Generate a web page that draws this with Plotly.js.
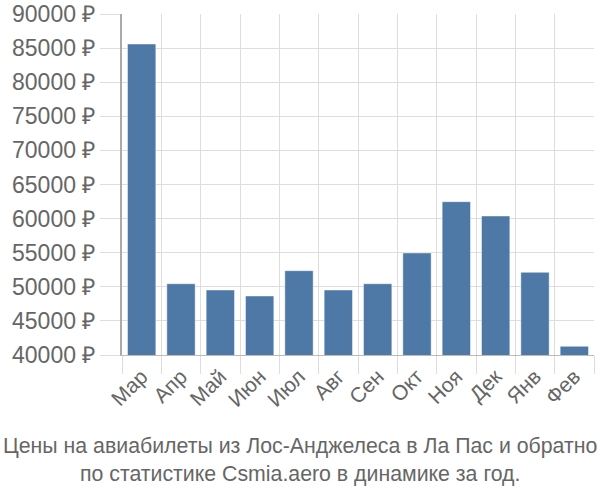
<!DOCTYPE html>
<html><head><meta charset="utf-8">
<script src="https://cdn.plot.ly/plotly-3.0.1.min.js"></script>
<style>html,body{margin:0;padding:0;background:#fff}#c{width:600px;height:500px}</style>
</head><body><div id="c"></div>
<script>
const months = ["Мар","Апр","Май","Июн","Июл","Авг","Сен","Окт","Ноя","Дек","Янв","Фев"];
const prices = [85600,50450,49530,48650,52360,49530,50450,54960,62480,60380,52120,41270];
const titleLines = ["Цены на авиабилеты из Лос-Анджелеса в Ла Пас и обратно","по статистике Csmia.aero в динамике за год."];

const trace = {
  type:"bar", x:months, y:prices,
  marker:{color:"#4e78a6", line:{color:"rgba(255,255,255,0.45)", width:1}},
  hoverinfo:"none"
};
const layout = {
  width:600, height:500,
  margin:{l:122, r:6, t:14, b:145},
  paper_bgcolor:"#fff", plot_bgcolor:"#fff",
  font:{family:"Liberation Sans, Arial, sans-serif", color:"#666"},
  bargap:0.28,
  showlegend:false,
  xaxis:{
    type:"category", tickson:"boundaries", showgrid:true, gridcolor:"#ddd", gridwidth:1,
    ticks:"outside", ticklen:18, tickcolor:"#ddd", tickangle:-45,
    tickfont:{size:21, color:"#666"}, showline:true, linecolor:"#bbb", linewidth:1,
    zeroline:false
  },
  yaxis:{
    range:[40000,90000], dtick:5000, tick0:40000, ticksuffix:" ₽",
    tickformat:"d",
    showgrid:true, gridcolor:"#ddd", gridwidth:1, ticks:"outside", ticklen:20, tickcolor:"#ddd",
    tickfont:{size:23, color:"#666"}, showline:true, linecolor:"#aaa", linewidth:2, zeroline:false
  },
  annotations:[{
    xref:"paper", yref:"paper", x:0.377, y:-0.225, xanchor:"center", yanchor:"top",
    text:titleLines.join("<br>"), showarrow:false, align:"center",
    font:{size:21.3, color:"#666", family:"Liberation Sans, Arial, sans-serif"}
  }]
};
Plotly.newPlot("c",[trace],layout,{displayModeBar:false, staticPlot:true});
</script></body></html>
